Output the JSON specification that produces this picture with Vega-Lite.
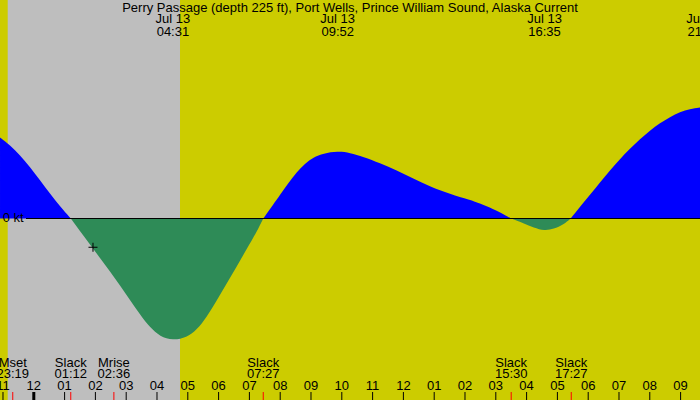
{
  "$schema": "https://vega.github.io/schema/vega-lite/v6.json",
  "width": 700,
  "height": 400,
  "autosize": {"type": "none"},
  "padding": 0,
  "background": "#CCCC00",
  "config": {
    "view": {"stroke": null, "fill": "#CCCC00"},
    "text": {"font": "Liberation Sans", "fontSize": 13, "color": "#000000"}
  },
  "datasets": {
    "night": [{"t": -0.847, "t2": 4.747}],
    "curve": [
      {"t": -1.097, "v": 1.62, "dir": "flood", "seg": "f1"},
      {"t": -0.773, "v": 1.466, "dir": "flood", "seg": "f1"},
      {"t": -0.448, "v": 1.266, "dir": "flood", "seg": "f1"},
      {"t": -0.123, "v": 1.032, "dir": "flood", "seg": "f1"},
      {"t": 0.201, "v": 0.766, "dir": "flood", "seg": "f1"},
      {"t": 0.526, "v": 0.5, "dir": "flood", "seg": "f1"},
      {"t": 0.851, "v": 0.24, "dir": "flood", "seg": "f1"},
      {"t": 1.2, "v": 0, "dir": "flood", "seg": "f1"},
      {"t": 1.2, "v": 0, "dir": "ebb", "seg": "e1"},
      {"t": 1.5, "v": -0.25, "dir": "ebb", "seg": "e1"},
      {"t": 1.825, "v": -0.52, "dir": "ebb", "seg": "e1"},
      {"t": 2.149, "v": -0.79, "dir": "ebb", "seg": "e1"},
      {"t": 2.474, "v": -1.06, "dir": "ebb", "seg": "e1"},
      {"t": 2.799, "v": -1.34, "dir": "ebb", "seg": "e1"},
      {"t": 3.123, "v": -1.63, "dir": "ebb", "seg": "e1"},
      {"t": 3.448, "v": -1.92, "dir": "ebb", "seg": "e1"},
      {"t": 3.773, "v": -2.18, "dir": "ebb", "seg": "e1"},
      {"t": 4.097, "v": -2.36, "dir": "ebb", "seg": "e1"},
      {"t": 4.517, "v": -2.44, "dir": "ebb", "seg": "e1"},
      {"t": 4.964, "v": -2.38, "dir": "ebb", "seg": "e1"},
      {"t": 5.289, "v": -2.23, "dir": "ebb", "seg": "e1"},
      {"t": 5.614, "v": -1.97, "dir": "ebb", "seg": "e1"},
      {"t": 5.938, "v": -1.64, "dir": "ebb", "seg": "e1"},
      {"t": 6.263, "v": -1.3, "dir": "ebb", "seg": "e1"},
      {"t": 6.588, "v": -0.96, "dir": "ebb", "seg": "e1"},
      {"t": 6.912, "v": -0.61, "dir": "ebb", "seg": "e1"},
      {"t": 7.237, "v": -0.27, "dir": "ebb", "seg": "e1"},
      {"t": 7.45, "v": 0, "dir": "ebb", "seg": "e1"},
      {"t": 7.45, "v": 0, "dir": "flood", "seg": "f2"},
      {"t": 7.776, "v": 0.28, "dir": "flood", "seg": "f2"},
      {"t": 7.994, "v": 0.47, "dir": "flood", "seg": "f2"},
      {"t": 8.263, "v": 0.71, "dir": "flood", "seg": "f2"},
      {"t": 8.536, "v": 0.93, "dir": "flood", "seg": "f2"},
      {"t": 8.805, "v": 1.1, "dir": "flood", "seg": "f2"},
      {"t": 9.075, "v": 1.22, "dir": "flood", "seg": "f2"},
      {"t": 9.399, "v": 1.3, "dir": "flood", "seg": "f2"},
      {"t": 9.867, "v": 1.346, "dir": "flood", "seg": "f2"},
      {"t": 10.266, "v": 1.315, "dir": "flood", "seg": "f2"},
      {"t": 10.698, "v": 1.235, "dir": "flood", "seg": "f2"},
      {"t": 11.24, "v": 1.11, "dir": "flood", "seg": "f2"},
      {"t": 11.782, "v": 0.96, "dir": "flood", "seg": "f2"},
      {"t": 12.321, "v": 0.8, "dir": "flood", "seg": "f2"},
      {"t": 12.864, "v": 0.64, "dir": "flood", "seg": "f2"},
      {"t": 13.513, "v": 0.49, "dir": "flood", "seg": "f2"},
      {"t": 14.162, "v": 0.37, "dir": "flood", "seg": "f2"},
      {"t": 14.487, "v": 0.3, "dir": "flood", "seg": "f2"},
      {"t": 14.919, "v": 0.19, "dir": "flood", "seg": "f2"},
      {"t": 15.244, "v": 0.09, "dir": "flood", "seg": "f2"},
      {"t": 15.5, "v": 0, "dir": "flood", "seg": "f2"},
      {"t": 15.5, "v": 0, "dir": "ebb", "seg": "e2"},
      {"t": 15.906, "v": -0.1, "dir": "ebb", "seg": "e2"},
      {"t": 16.23, "v": -0.18, "dir": "ebb", "seg": "e2"},
      {"t": 16.58, "v": -0.245, "dir": "ebb", "seg": "e2"},
      {"t": 16.88, "v": -0.21, "dir": "ebb", "seg": "e2"},
      {"t": 17.205, "v": -0.12, "dir": "ebb", "seg": "e2"},
      {"t": 17.43, "v": 0, "dir": "ebb", "seg": "e2"},
      {"t": 17.43, "v": 0, "dir": "flood", "seg": "f3"},
      {"t": 17.734, "v": 0.235, "dir": "flood", "seg": "f3"},
      {"t": 18.058, "v": 0.47, "dir": "flood", "seg": "f3"},
      {"t": 18.383, "v": 0.725, "dir": "flood", "seg": "f3"},
      {"t": 18.708, "v": 0.965, "dir": "flood", "seg": "f3"},
      {"t": 19.032, "v": 1.19, "dir": "flood", "seg": "f3"},
      {"t": 19.357, "v": 1.4, "dir": "flood", "seg": "f3"},
      {"t": 19.682, "v": 1.59, "dir": "flood", "seg": "f3"},
      {"t": 20.006, "v": 1.76, "dir": "flood", "seg": "f3"},
      {"t": 20.331, "v": 1.91, "dir": "flood", "seg": "f3"},
      {"t": 20.656, "v": 2.03, "dir": "flood", "seg": "f3"},
      {"t": 20.981, "v": 2.13, "dir": "flood", "seg": "f3"},
      {"t": 21.305, "v": 2.19, "dir": "flood", "seg": "f3"},
      {"t": 21.63, "v": 2.22, "dir": "flood", "seg": "f3"}
    ],
    "now": [{"t": 1.922, "v": -0.575}],
    "hours": [
      {"t": -1, "label": "11"}, {"t": 0, "label": "12"}, {"t": 1, "label": "01"},
      {"t": 2, "label": "02"}, {"t": 3, "label": "03"}, {"t": 4, "label": "04"},
      {"t": 5, "label": "05"}, {"t": 6, "label": "06"}, {"t": 7, "label": "07"},
      {"t": 8, "label": "08"}, {"t": 9, "label": "09"}, {"t": 10, "label": "10"},
      {"t": 11, "label": "11"}, {"t": 12, "label": "12"}, {"t": 13, "label": "01"},
      {"t": 14, "label": "02"}, {"t": 15, "label": "03"}, {"t": 16, "label": "04"},
      {"t": 17, "label": "05"}, {"t": 18, "label": "06"}, {"t": 19, "label": "07"},
      {"t": 20, "label": "08"}, {"t": 21, "label": "09"}
    ],
    "events": [
      {"t": -0.683, "label": "Mset\n23:19"},
      {"t": 1.2, "label": "Slack\n01:12"},
      {"t": 2.6, "label": "Mrise\n02:36"},
      {"t": 7.45, "label": "Slack\n07:27"},
      {"t": 15.5, "label": "Slack\n15:30"},
      {"t": 17.45, "label": "Slack\n17:27"}
    ],
    "maxes": [
      {"t": 4.517, "label": "Jul 13\n04:31"},
      {"t": 9.867, "label": "Jul 13\n09:52"},
      {"t": 16.583, "label": "Jul 13\n16:35"},
      {"t": 21.75, "label": "Jul 13\n21:45"}
    ],
    "title": [{"label": "Perry Passage (depth 225 ft), Port Wells, Prince William Sound, Alaska Current"}],
    "unit": [{"label": "0 kt"}]
  },
  "layer": [
    {
      "data": {"name": "night"},
      "mark": {"type": "rect", "color": "#BEBEBE", "opacity": 1},
      "encoding": {
        "x": {"field": "t", "type": "quantitative", "scale": {"domain": [-1.0974, 21.63], "nice": false, "zero": false}, "axis": null},
        "x2": {"field": "t2"}
      }
    },
    {
      "data": {"name": "curve"},
      "mark": {"type": "area", "interpolate": "basis", "opacity": 1},
      "encoding": {
        "x": {"field": "t", "type": "quantitative", "scale": {"domain": [-1.0974, 21.63], "nice": false, "zero": false}, "axis": null},
        "y": {"field": "v", "type": "quantitative", "scale": {"domain": [-3.63, 4.37], "nice": false, "zero": false}, "axis": null},
        "y2": {"datum": 0},
        "color": {"field": "dir", "type": "nominal", "scale": {"domain": ["flood", "ebb"], "range": ["#0000FF", "#2E8B57"]}, "legend": null},
        "detail": {"field": "seg"}
      }
    },
    {
      "data": {"name": "unit"},
      "mark": {"type": "rule", "color": "#000000", "strokeWidth": 1},
      "encoding": {
        "x": {"datum": -0.253, "type": "quantitative", "axis": null},
        "x2": {"datum": 21.63},
        "y": {"datum": 0, "type": "quantitative", "axis": null}
      }
    },
    {
      "data": {"name": "now"},
      "mark": {"type": "point", "shape": "M-1,0H1M0,-1V1", "size": 81, "stroke": "#000000", "strokeWidth": 1, "filled": false, "opacity": 1},
      "encoding": {
        "x": {"field": "t", "type": "quantitative", "axis": null},
        "y": {"field": "v", "type": "quantitative", "axis": null}
      }
    },
    {
      "data": {"name": "hours"},
      "mark": {"type": "rule", "color": "#000000"},
      "encoding": {
        "x": {"field": "t", "type": "quantitative", "axis": null},
        "y": {"datum": -3.47, "type": "quantitative", "axis": null},
        "y2": {"datum": -3.63},
        "strokeWidth": {"condition": {"test": "datum.t == 0", "value": 3}, "value": 1}
      }
    },
    {
      "data": {"name": "hours"},
      "mark": {"type": "text", "align": "center", "baseline": "alphabetic"},
      "encoding": {
        "x": {"field": "t", "type": "quantitative", "axis": null},
        "y": {"datum": -3.42, "type": "quantitative", "axis": null},
        "text": {"field": "label"}
      }
    },
    {
      "data": {"name": "events"},
      "mark": {"type": "rule", "color": "#FF0000", "strokeWidth": 1},
      "encoding": {
        "x": {"field": "t", "type": "quantitative", "axis": null},
        "y": {"datum": -3.47, "type": "quantitative", "axis": null},
        "y2": {"datum": -3.63}
      }
    },
    {
      "data": {"name": "events"},
      "mark": {"type": "text", "lineBreak": "\n", "lineHeight": 11.5, "align": "center", "baseline": "alphabetic"},
      "encoding": {
        "x": {"field": "t", "type": "quantitative", "axis": null},
        "y": {"datum": -2.964, "type": "quantitative", "axis": null},
        "text": {"field": "label"}
      }
    },
    {
      "data": {"name": "maxes"},
      "mark": {"type": "text", "lineBreak": "\n", "lineHeight": 12.4, "align": "center", "baseline": "alphabetic"},
      "encoding": {
        "x": {"field": "t", "type": "quantitative", "axis": null},
        "y": {"datum": 3.904, "type": "quantitative", "axis": null},
        "text": {"field": "label"}
      }
    },
    {
      "data": {"name": "title"},
      "mark": {"type": "text", "align": "center", "baseline": "alphabetic"},
      "encoding": {
        "x": {"datum": 10.266, "type": "quantitative", "axis": null},
        "y": {"datum": 4.136, "type": "quantitative", "axis": null},
        "text": {"field": "label"}
      }
    },
    {
      "data": {"name": "unit"},
      "mark": {"type": "text", "align": "left", "baseline": "alphabetic"},
      "encoding": {
        "x": {"datum": -1.01, "type": "quantitative", "axis": null},
        "y": {"datum": -0.076, "type": "quantitative", "axis": null},
        "text": {"field": "label"}
      }
    }
  ]
}
